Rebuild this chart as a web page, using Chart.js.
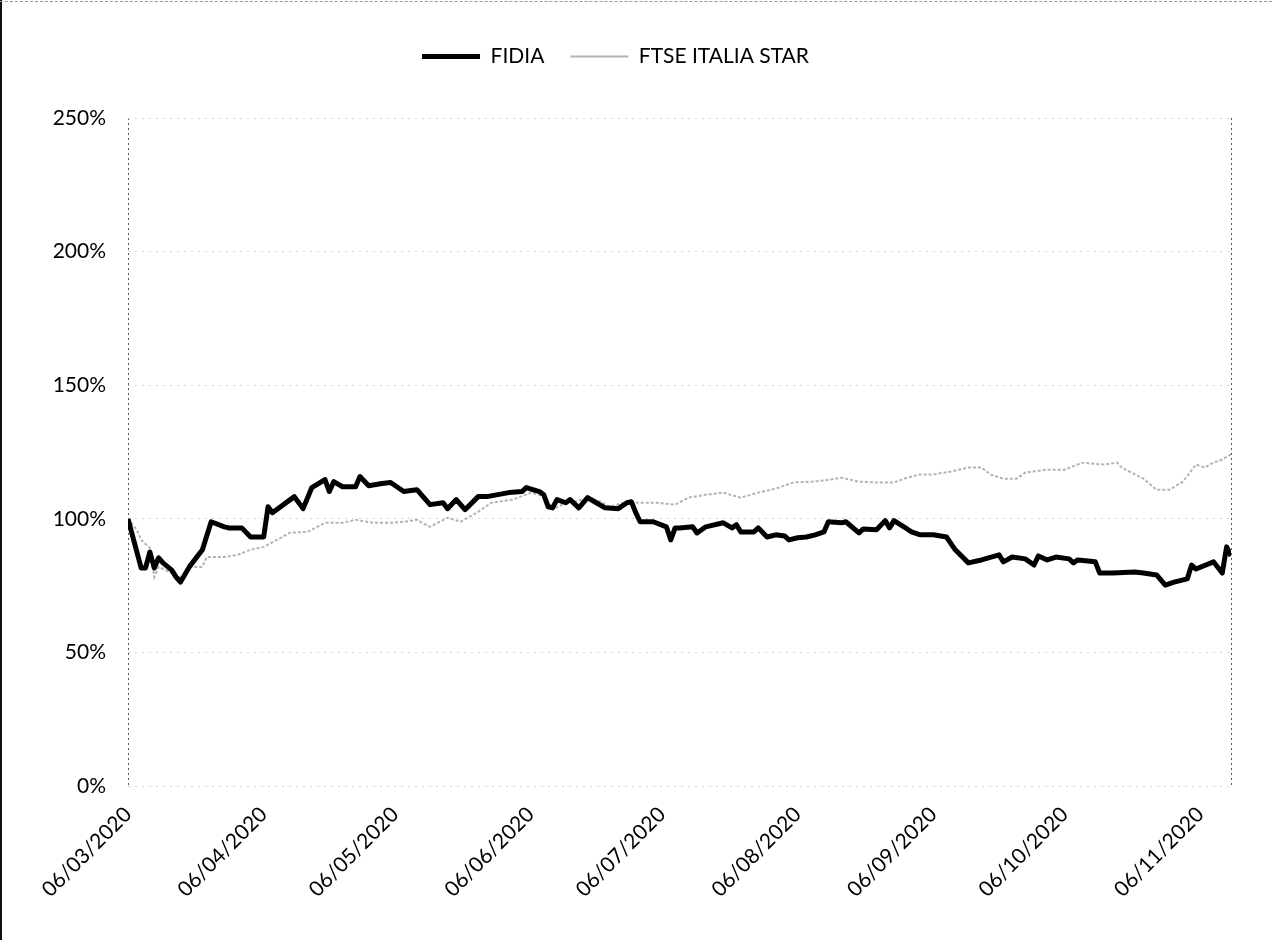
<!DOCTYPE html>
<html>
<head>
<meta charset="utf-8">
<script src="https://cdn.jsdelivr.net/npm/chart.js@4.4.1/dist/chart.umd.min.js"></script>
<style>
  html, body { margin: 0; padding: 0; background: #fff; }
  #wrap { position: relative; width: 1272px; height: 940px; }
  #frameLeft { position: absolute; left: 0; top: 0; width: 2px; height: 940px; background: #111; }
  #frameTop { position: absolute; left: 0; top: 1px; width: 1272px; border-top: 1px dashed #9a9a9a; }
</style>
</head>
<body>
<div id="wrap">
  <canvas id="chart" width="1272" height="940"></canvas>
  <div id="frameLeft"></div>
  <div id="frameTop"></div>
</div>
<script>
// Etichette asse X (una al mese) e ultimo giorno del grafico
const tickDates = ['06/03/2020', '06/04/2020', '06/05/2020', '06/06/2020', '06/07/2020',
                   '06/08/2020', '06/09/2020', '06/10/2020', '06/11/2020'];
const lastDate = '13/11/2020';
const yTicks = [0, 50, 100, 150, 200, 250];

// FIDIA (base 100 = 06/03/2020)
const fidiaDates = [
  '06/03/2020', '09/03/2020', '10/03/2020', '11/03/2020', '12/03/2020', '13/03/2020', '14/03/2020',
  '16/03/2020', '17/03/2020', '18/03/2020', '20/03/2020', '23/03/2020', '25/03/2020', '28/03/2020',
  '29/03/2020', '01/04/2020', '03/04/2020', '06/04/2020', '07/04/2020', '08/04/2020', '13/04/2020',
  '15/04/2020', '17/04/2020', '20/04/2020', '21/04/2020', '22/04/2020', '24/04/2020', '27/04/2020',
  '28/04/2020', '30/04/2020', '03/05/2020', '05/05/2020', '08/05/2020', '11/05/2020', '14/05/2020',
  '17/05/2020', '18/05/2020', '20/05/2020', '22/05/2020', '25/05/2020', '27/05/2020', '01/06/2020',
  '04/06/2020', '05/06/2020', '08/06/2020', '09/06/2020', '10/06/2020', '11/06/2020', '12/06/2020',
  '14/06/2020', '15/06/2020', '17/06/2020', '19/06/2020', '21/06/2020', '23/06/2020', '26/06/2020',
  '28/06/2020', '29/06/2020', '30/06/2020', '01/07/2020', '04/07/2020', '07/07/2020', '08/07/2020',
  '09/07/2020', '10/07/2020', '13/07/2020', '14/07/2020', '16/07/2020', '20/07/2020', '22/07/2020',
  '23/07/2020', '24/07/2020', '27/07/2020', '28/07/2020', '30/07/2020', '01/08/2020', '03/08/2020',
  '04/08/2020', '06/08/2020', '08/08/2020', '10/08/2020', '12/08/2020', '13/08/2020', '16/08/2020',
  '17/08/2020', '20/08/2020', '21/08/2020', '24/08/2020', '26/08/2020', '27/08/2020', '28/08/2020',
  '31/08/2020', '01/09/2020', '03/09/2020', '06/09/2020', '09/09/2020', '11/09/2020', '14/09/2020',
  '17/09/2020', '21/09/2020', '22/09/2020', '24/09/2020', '27/09/2020', '29/09/2020', '30/09/2020',
  '02/10/2020', '04/10/2020', '07/10/2020', '08/10/2020', '09/10/2020', '13/10/2020', '14/10/2020',
  '17/10/2020', '22/10/2020', '24/10/2020', '27/10/2020', '29/10/2020', '31/10/2020', '03/11/2020',
  '04/11/2020', '05/11/2020', '09/11/2020', '11/11/2020', '12/11/2020', '13/11/2020'
];
const fidiaValues = [
  100, 81.6, 81.6, 87.6, 81.6, 85.4, 83.5,
  80.8, 78.2, 76.3, 82, 88.4, 98.9, 97,
  96.6, 96.6, 93.2, 93.2, 104.5, 102.3, 108.3,
  103.8, 111.7, 114.7, 110.2, 113.9, 112, 112,
  115.8, 112.4, 113.2, 113.6, 110.2, 110.9, 105.3,
  106, 103.8, 107.2, 103.4, 108.3, 108.3, 109.8,
  110.2, 111.7, 110.2, 109, 104.5, 104.1, 107.2,
  106, 107.2, 104.1, 107.9, 106, 104.1, 103.8,
  106, 106.4, 102.3, 98.9, 98.9, 97, 92.1,
  96.6, 96.6, 97, 94.7, 97, 98.5, 96.6,
  97.8, 95.1, 95.1, 96.6, 93.2, 94, 93.6,
  92.1, 92.9, 93.2, 94, 95.1, 98.9, 98.5,
  98.9, 94.7, 96.2, 95.9, 99.3, 96.6, 99.3,
  96.2, 95.1, 94, 94, 93.2, 88.4, 83.5,
  84.6, 86.5, 83.9, 85.7, 85, 82.7, 86.1,
  84.6, 85.7, 85, 83.5, 84.6, 83.9, 79.7,
  79.7, 80.1, 79.7, 79, 75.2, 76.3, 77.5,
  82.7, 81.2, 83.9, 79.7, 89.5, 86.1
];

// FTSE ITALIA STAR (base 100 = 06/03/2020)
const starDates = [
  '06/03/2020', '08/03/2020', '09/03/2020', '11/03/2020', '12/03/2020', '13/03/2020', '16/03/2020',
  '18/03/2020', '20/03/2020', '23/03/2020', '24/03/2020', '28/03/2020', '31/03/2020', '03/04/2020',
  '06/04/2020', '09/04/2020', '12/04/2020', '16/04/2020', '20/04/2020', '24/04/2020', '27/04/2020',
  '01/05/2020', '05/05/2020', '08/05/2020', '11/05/2020', '14/05/2020', '18/05/2020', '21/05/2020',
  '25/05/2020', '28/05/2020', '02/06/2020', '06/06/2020', '08/06/2020', '10/06/2020', '11/06/2020',
  '14/06/2020', '16/06/2020', '19/06/2020', '22/06/2020', '24/06/2020', '28/06/2020', '01/07/2020',
  '05/07/2020', '09/07/2020', '12/07/2020', '16/07/2020', '20/07/2020', '24/07/2020', '28/07/2020',
  '01/08/2020', '05/08/2020', '09/08/2020', '12/08/2020', '16/08/2020', '20/08/2020', '24/08/2020',
  '28/08/2020', '31/08/2020', '03/09/2020', '06/09/2020', '10/09/2020', '14/09/2020', '17/09/2020',
  '19/09/2020', '22/09/2020', '25/09/2020', '27/09/2020', '02/10/2020', '06/10/2020', '10/10/2020',
  '15/10/2020', '18/10/2020', '19/10/2020', '24/10/2020', '27/10/2020', '30/10/2020', '02/11/2020',
  '05/11/2020', '07/11/2020', '09/11/2020', '11/11/2020', '13/11/2020'
];
const starValues = [
  100, 95.9, 92.1, 89.1, 78.2, 82, 79.7,
  78.2, 82, 82, 85.7, 85.7, 86.5, 88.4,
  89.5, 92.1, 94.8, 95.1, 98.5, 98.5, 99.6,
  98.5, 98.5, 98.9, 99.6, 97, 100.4, 98.9,
  102.6, 106, 107.2, 109.8, 109, 106.4, 103.4,
  106, 106.4, 107.9, 106.4, 104.5, 106.4, 106,
  106, 105.3, 107.9, 109, 109.8, 107.9, 109.8,
  111.3, 113.6, 113.9, 114.3, 115.4, 113.9, 113.6,
  113.6, 115.4, 116.6, 116.6, 117.7, 119.2, 119.2,
  116.6, 115, 115, 117.3, 118.4, 118.4, 121,
  120.3, 121, 119.2, 115, 110.9, 110.9, 113.9,
  120.3, 119.2, 121, 122.2, 124.1
];

const FONT = { family: 'Lato, "Open Sans", sans-serif', size: 21 };

// giorni trascorsi dal 06/03/2020
function dayIndex(s) {
  const [d, m, y] = s.split('/').map(Number);
  return Math.round((Date.UTC(y, m - 1, d) - Date.UTC(2020, 2, 6)) / 86400000);
}

function toPoints(dates, values) {
  return dates.map((d, i) => ({ x: dayIndex(d), y: values[i] }));
}

const xMax = dayIndex(lastDate);
const xTickValues = tickDates.map(dayIndex);
const xLabels = {};
tickDates.forEach(d => { xLabels[dayIndex(d)] = d; });

// spazio fisso per la legenda, così l'area del grafico parte alla quota giusta
const legendSpace = {
  id: 'legendSpace',
  beforeInit(chart) {
    const fit = chart.legend.fit;
    chart.legend.fit = function () {
      fit.call(this);
      this.height = 98;
    };
  }
};

const ctx = document.getElementById('chart').getContext('2d');
new Chart(ctx, {
  type: 'line',
  data: {
    datasets: [
      {
        label: 'FIDIA',
        data: toPoints(fidiaDates, fidiaValues),
        borderColor: '#000000',
        backgroundColor: '#000000',
        borderWidth: 5,
        borderJoinStyle: 'round',
        pointRadius: 0,
        pointHoverRadius: 0,
        pointStyle: 'line',
        tension: 0
      },
      {
        label: 'FTSE ITALIA STAR',
        data: toPoints(starDates, starValues),
        borderColor: '#b3b3b3',
        backgroundColor: '#b3b3b3',
        borderWidth: 2,
        borderDash: [3, 2],
        pointRadius: 0,
        pointHoverRadius: 0,
        pointStyle: 'line',
        tension: 0
      }
    ]
  },
  options: {
    responsive: false,
    animation: false,
    devicePixelRatio: 1,
    layout: { padding: { top: 20, left: 0, right: 41, bottom: 0 } },
    plugins: {
      legend: {
        position: 'top',
        labels: {
          usePointStyle: true,
          pointStyle: 'line',
          pointStyleWidth: 58,
          boxWidth: 58,
          padding: 26,
          color: '#000',
          font: FONT
        }
      },
      tooltip: { enabled: false }
    },
    scales: {
      x: {
        type: 'linear',
        min: 0,
        max: xMax,
        afterBuildTicks: scale => {
          scale.ticks = xTickValues.concat([xMax]).map(v => ({ value: v }));
        },
        afterFit: scale => { scale.height = 154; },
        ticks: {
          autoSkip: false,
          maxRotation: 45,
          minRotation: 45,
          padding: 16,
          color: '#000',
          font: FONT,
          callback: v => xLabels[v] || ''
        },
        grid: {
          drawTicks: false,
          lineWidth: 1,
          color: c => (c.tick && (c.tick.value === 0 || c.tick.value === xMax)) ? '#555555' : 'rgba(0,0,0,0)'
        },
        border: { display: false, dash: [2, 3] }
      },
      y: {
        min: 0,
        max: 250,
        afterBuildTicks: scale => {
          scale.ticks = yTicks.map(v => ({ value: v }));
        },
        afterFit: scale => { scale.width = 128; },
        ticks: {
          padding: 22,
          color: '#000',
          font: FONT,
          callback: v => v + '%'
        },
        grid: {
          drawTicks: false,
          lineWidth: 1,
          color: '#d4d4d4'
        },
        border: { display: false, dash: [2, 5] }
      }
    }
  },
  plugins: [legendSpace]
});
</script>
</body>
</html>
